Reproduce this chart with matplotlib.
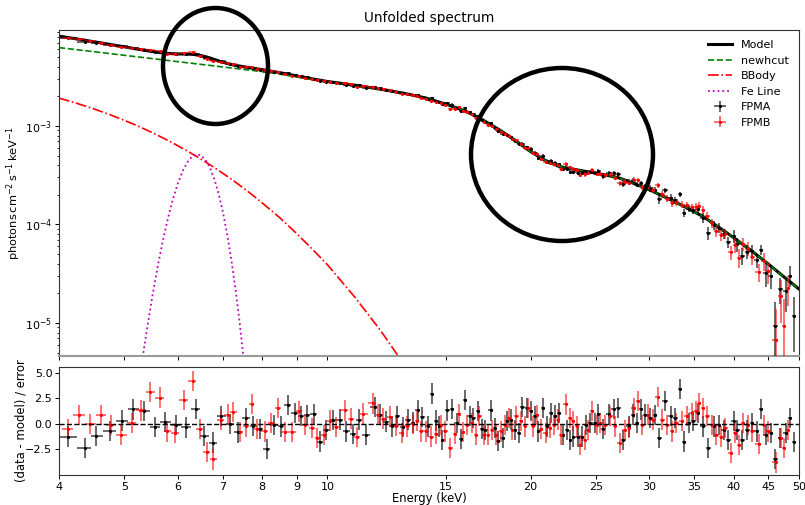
import numpy as np
import matplotlib
matplotlib.use("Agg")
import matplotlib.pyplot as plt
from matplotlib.patches import Ellipse
from matplotlib.ticker import FixedLocator, FixedFormatter, NullLocator

# ---------------- model components (photons cm^-2 s^-1 keV^-1) ----------------
model_energy = [4.0, 4.25, 4.5, 4.75, 5.0, 5.2, 5.3, 5.4, 5.5, 5.6, 5.7, 5.8, 5.9,
                6.0, 6.1, 6.2, 6.3, 6.4, 6.5, 6.6, 6.7, 6.8, 6.9, 7.0, 7.1, 7.2,
                7.3, 7.4, 7.5, 7.6, 7.8, 8.0, 8.5, 9.0, 9.5, 10, 11, 12, 13, 14,
                15, 16, 17, 18, 19, 20, 21, 22, 23, 24, 25, 26, 27, 28, 30, 32,
                34, 36, 38, 40, 42, 44, 46, 48, 50]

newhcut_flux = [6.25e-3, 5.95e-3, 5.68e-3, 5.44e-3, 5.22e-3, 5.05e-3, 4.98e-3,
                4.90e-3, 4.83e-3, 4.76e-3, 4.69e-3, 4.63e-3, 4.56e-3, 4.50e-3,
                4.44e-3, 4.38e-3, 4.33e-3, 4.27e-3, 4.22e-3, 4.17e-3, 4.12e-3,
                4.07e-3, 4.02e-3, 3.97e-3, 3.93e-3, 3.88e-3, 3.84e-3, 3.80e-3,
                3.76e-3, 3.72e-3, 3.64e-3, 3.57e-3, 3.36e-3, 3.14e-3, 2.95e-3,
                2.79e-3, 2.57e-3, 2.35e-3, 2.14e-3, 1.92e-3, 1.66e-3, 1.42e-3,
                1.15e-3, 9.1e-4, 7.1e-4, 5.5e-4, 4.5e-4, 3.9e-4, 3.67e-4,
                3.48e-4, 3.32e-4, 3.15e-4, 2.98e-4, 2.73e-4, 2.25e-4, 1.83e-4,
                1.49e-4, 1.21e-4, 9.4e-5, 7.35e-5, 5.75e-5, 4.5e-5, 3.52e-5,
                2.77e-5, 2.21e-5]

nan = np.nan
bbody_flux = [1.92e-3, 1.70e-3, 1.495e-3, 1.31e-3, 1.14e-3, 1.02e-3, 9.61e-4,
              9.07e-4, 8.55e-4, 8.05e-4, 7.58e-4, 7.13e-4, 6.71e-4, 6.30e-4,
              5.92e-4, 5.56e-4, 5.22e-4, 4.90e-4, 4.59e-4, 4.30e-4, 4.03e-4,
              3.77e-4, 3.53e-4, 3.30e-4, 3.09e-4, 2.89e-4, 2.70e-4, 2.52e-4,
              2.35e-4, 2.20e-4, 1.91e-4, 1.66e-4, 1.17e-4, 8.1e-5, 5.6e-5,
              3.9e-5, 1.8e-5, 8.3e-6, 3.75e-6, 1.7e-6,
              nan, nan, nan, nan, nan, nan, nan, nan, nan, nan, nan, nan, nan,
              nan, nan, nan, nan, nan, nan, nan, nan, nan, nan, nan, nan]

fe_line_flux = [nan, nan, nan, nan, nan, 1.47e-6, 3.70e-6, 8.62e-6, 1.855e-5,
                3.69e-5, 6.78e-5, 1.149e-4, 1.80e-4, 2.60e-4, 3.48e-4, 4.29e-4,
                4.90e-4, 5.16e-4, 5.01e-4, 4.50e-4, 3.74e-4, 2.86e-4, 2.03e-4,
                1.33e-4, 8.0e-5, 4.46e-5, 2.30e-5, 1.09e-5, 4.80e-6, 1.95e-6,
                nan, nan, nan, nan, nan, nan, nan, nan, nan, nan, nan, nan, nan,
                nan, nan, nan, nan, nan, nan, nan, nan, nan, nan, nan, nan, nan,
                nan, nan, nan, nan, nan, nan, nan, nan, nan]

# ---------------- data: bin centres (keV) and residuals (sigma) ----------------
fpma_energy = [4.13, 4.37, 4.54, 4.76, 4.96, 5.15, 5.35, 5.56, 5.74, 5.97, 6.18,
               6.38, 6.56, 6.77, 6.96, 7.18, 7.36, 7.57, 7.76, 7.94, 8.13, 8.33,
               8.54, 8.73, 8.94, 9.14, 9.32, 9.55, 9.76, 9.96, 10.19, 10.43,
               10.67, 10.9, 11.12, 11.4, 11.76, 11.95, 12.2, 12.47, 12.7, 12.93,
               13.16, 13.4, 13.6, 13.8, 14.1, 14.3, 14.47, 14.65, 14.8, 15.05,
               15.3, 15.55, 15.75, 16.0, 16.25, 16.45, 16.7, 16.95, 17.15,
               17.45, 17.7, 17.9, 18.2, 18.45, 18.7, 18.95, 19.2, 19.45, 19.75,
               20.0, 20.3, 20.55, 20.85, 21.15, 21.45, 21.75, 22.05, 22.35,
               22.65, 22.9, 23.15, 23.5, 23.85, 24.2, 24.5, 24.9, 25.2, 25.65,
               26.1, 26.55, 27.0, 27.45, 27.95, 28.35, 28.8, 29.2, 29.6, 30.1,
               30.6, 31.0, 31.7, 32.3, 32.8, 33.3, 33.8, 34.3, 34.85, 35.4,
               36.0, 36.7, 37.4, 38.0, 38.7, 39.3, 40.0, 40.5, 41.2, 41.9, 42.6,
               43.3, 43.9, 44.6, 45.5, 46.1, 46.9, 47.8, 48.5, 49.2]
fpma_resid = [-1.27, -2.43, -1.2, -0.7, 0.3, 1.4, 1.23, -0.33, 0.13, -0.17,
              -0.37, 1.47, -1.2, -1.87, 0.73, 0.0, -0.87, 0.57, -0.2, -0.5,
              -2.53, -0.1, -0.27, 1.83, 1.07, 0.73, 0.83, 0.97, -1.77, -0.6,
              0.33, 0.4, -0.77, -1.0, 0.4, -1.1, 1.63, 0.9, 0.2, -0.27, 0.73,
              -0.3, 0.4, 0.1, 1.3, 0.67, -0.27, 2.97, 0.3, -0.27, -1.6, 1.3,
              1.47, 0.07, -1.5, 2.3, 0.73, 0.57, 1.23, -0.5, -0.6, 1.3, -0.43,
              -1.7, -1.43, 0.23, 0.4, -0.6, -0.93, 1.63, 1.57, 1.23, 0.73,
              -0.77, 1.57, -0.27, 1.07, 0.8, 1.03, -1.1, -0.6, -1.6, -1.27,
              -1.27, -1.27, -0.1, 0.07, 0.07, 0.97, -0.5, 0.97, 1.47, 1.57,
              -1.6, -0.27, 0.9, 0.07, 1.4, 0.9, 0.57, 0.83, -1.43, 2.23, 0.73,
              0.57, 3.4, -1.77, 0.07, 0.23, 1.07, -0.27, -2.43, -0.27, -0.1,
              -0.6, -1.6, 0.23, -0.6, -1.6, -0.6, 0.07, -0.77, 1.47, -1.1,
              -0.93, -3.5, -1.43, -0.93, 0.57, -1.83]

fpmb_energy = [4.12, 4.28, 4.45, 4.62, 4.77, 4.95, 5.13, 5.29, 5.46, 5.64, 5.79,
               5.95, 6.12, 6.31, 6.47, 6.63, 6.77, 6.96, 7.11, 7.25, 7.43, 7.58,
               7.72, 7.87, 8.07, 8.25, 8.45, 8.64, 8.87, 9.08, 9.27, 9.48, 9.66,
               9.88, 10.1, 10.3, 10.6, 10.85, 11.05, 11.3, 11.7, 11.9, 12.1,
               12.4, 12.65, 12.88, 13.1, 13.4, 13.58, 13.75, 14.0, 14.25, 14.5,
               14.75, 14.95, 15.2, 15.45, 15.65, 15.9, 16.1, 16.35, 16.6, 16.8,
               17.05, 17.3, 17.55, 17.8, 18.1, 18.35, 18.6, 18.8, 19.05, 19.35,
               19.6, 19.85, 20.15, 20.45, 20.75, 21.05, 21.35, 21.65, 21.95,
               22.2, 22.55, 22.85, 23.15, 23.4, 23.7, 24.05, 24.35, 24.65,
               25.05, 25.35, 25.8, 26.25, 26.7, 27.1, 27.6, 28.0, 28.45, 28.9,
               29.3, 29.85, 30.35, 30.85, 31.35, 31.9, 32.45, 32.9, 33.55, 34.1,
               34.7, 35.15, 35.6, 36.0, 36.5, 37.2, 37.7, 38.3, 38.85, 39.65,
               40.2, 40.75, 41.3, 41.95, 42.6, 43.6, 44.3, 45.0, 46.2, 47.0,
               47.5, 48.2]
fpmb_resid = [-0.5, 0.83, 0.0, 0.83, -0.1, -1.1, 0.07, 1.3, 3.13, 2.57, -0.77,
              -0.93, 2.33, 4.23, -0.5, -2.77, -3.53, 0.33, 0.9, 1.13, -0.83,
              -0.27, 1.97, -0.5, -0.77, 0.07, 1.57, -0.83, -0.83, 1.2, -0.1,
              -0.4, -1.43, -1.1, 0.3, -0.3, 1.3, 0.5, -1.3, 1.0, 2.0, 0.9, 0.5,
              0.7, -0.2, -0.93, -0.27, -0.03, 0.3, -0.77, -0.77, -1.27, -1.03,
              -0.17, -0.77, -2.43, -1.03, 0.97, -0.83, -0.17, 0.07, -1.1, 0.73,
              -1.1, -1.1, -0.6, -1.1, -0.77, -0.1, 0.57, -0.6, 0.73, 0.23,
              -0.27, 1.57, -0.27, 0.83, -0.5, -0.93, -0.43, -0.1, 0.4, -1.1,
              1.9, 0.57, 0.23, -0.27, -2.1, -1.6, -0.6, 1.23, -0.1, 0.07, -0.1,
              0.73, -0.27, -1.93, -0.6, -0.43, 1.57, 2.23, -0.1, 0.9, 0.4,
              2.63, 0.4, -0.1, -0.77, 0.07, 0.23, 0.73, 1.07, 1.23, 2.07, 1.57,
              0.73, -0.1, -1.1, -1.27, -0.43, -2.93, -0.93, -2.1, 0.07, -0.1,
              -0.77, -2.03, -0.1, -0.77, -3.83, -1.43, -2.43, -0.6]

# fractional 1-sigma flux error per energy band
err_band_edges = [4, 10, 15, 20, 25, 30, 35, 40, 44, 47, 50]
err_band_frac = [0.012, 0.018, 0.03, 0.045, 0.06, 0.08, 0.11, 0.15, 0.21, 0.28]

energy_ticks = [4, 5, 6, 7, 8, 9, 10, 15, 20, 25, 30, 35, 40, 45, 50]
resid_ticks = [-2.5, 0.0, 2.5, 5.0]

# ---------------- derived quantities ----------------
m_e = np.asarray(model_energy)
cont = np.asarray(newhcut_flux)
bb = np.asarray(bbody_flux)
fe = np.asarray(fe_line_flux)
model_total = cont + np.nan_to_num(bb) + np.nan_to_num(fe)


def model_at(e):
    return np.exp(np.interp(np.log(e), np.log(m_e), np.log(model_total)))


def bin_halfwidths(e):
    e = np.asarray(e, dtype=float)
    edges = np.empty(len(e) + 1)
    edges[1:-1] = 0.5 * (e[1:] + e[:-1])
    edges[0] = e[0] - (edges[1] - e[0])
    edges[-1] = min(e[-1] + (e[-1] - edges[-2]), 50.0)
    return np.vstack([e - edges[:-1], edges[1:] - e])


def band_frac(e):
    idx = np.searchsorted(err_band_edges, e, side="right") - 1
    idx = np.clip(idx, 0, len(err_band_frac) - 1)
    return np.asarray(err_band_frac)[idx]


def spectrum(e, r):
    e = np.asarray(e, dtype=float)
    r = np.asarray(r, dtype=float)
    m = model_at(e)
    f = band_frac(e)
    return e, m * (1 + r * f), m * f, r, bin_halfwidths(e)


# ---------------- figure ----------------
plt.rcParams["font.family"] = ["DejaVu Sans"]
W, H = 805, 505
fig = plt.figure(figsize=(W / 100, H / 100), dpi=100)
L, R = 59, 799
ax = fig.add_axes([L / W, 1 - 356 / H, (R - L) / W, (356 - 30) / H])
axr = fig.add_axes([L / W, 1 - 475 / H, (R - L) / W, (475 - 367) / H])

ax.plot(m_e, model_total, color="k", lw=2.2, label="Model", zorder=2)
ax.plot(m_e, cont, color="g", ls="--", lw=1.2, label="newhcut", zorder=2.1)
ax.plot(m_e, bb, color="r", ls="-.", lw=1.2, label="BBody", zorder=2)
ax.plot(m_e, fe, color="m", ls=":", lw=1.3, label="Fe Line", zorder=2)

for e, r, col, ecol, lab in [(fpma_energy, fpma_resid, "k", (0, 0, 0, 0.75), "FPMA"),
                             (fpmb_energy, fpmb_resid, "r", (1, 0, 0, 0.7), "FPMB")]:
    x, y, dy, res, dx = spectrum(e, r)
    ax.errorbar(x, y, yerr=dy, xerr=dx, fmt=".", ms=2.5, color=col, ecolor=ecol,
                elinewidth=1.1, capsize=0, label=lab, zorder=3)
    axr.errorbar(x, res, yerr=1.0, xerr=dx, fmt=".", ms=2.5, color=col,
                 ecolor=ecol, elinewidth=1.1, capsize=0, zorder=3)

axr.axhline(0.0, color="k", ls="--", lw=1.0, zorder=4)

for a in (ax, axr):
    a.set_xscale("log")
    a.set_xlim(4, 50)
    a.xaxis.set_major_locator(FixedLocator(energy_ticks))
    a.xaxis.set_minor_locator(NullLocator())
    a.tick_params(axis="both", which="major", labelsize=8, length=2.8,
                  width=0.7, pad=2)
    a.tick_params(axis="both", which="minor", length=1.6, width=0.6)
    for s in a.spines.values():
        s.set_linewidth(0.8)
        s.set_color("0.2")

ax.xaxis.set_major_formatter(FixedFormatter([str(t) for t in energy_ticks]))
ax.tick_params(axis="x", labelbottom=False)
ax.spines["bottom"].set_color("0.6")
ax.spines["bottom"].set_linewidth(1.5)
axr.xaxis.set_major_formatter(FixedFormatter([str(t) for t in energy_ticks]))

ax.set_yscale("log")
ax.set_ylim(4.62e-6, 9.43e-3)
axr.set_ylim(-5.07, 5.59)
axr.yaxis.set_major_locator(FixedLocator(resid_ticks))

ax.set_title("Unfolded spectrum", fontsize=9.8)
ax.set_ylabel(r"$\mathrm{photons\,cm^{-2}\,s^{-1}\,keV^{-1}}$", fontsize=8.2)
axr.set_ylabel("(data - model) / error", fontsize=8.4)
axr.set_xlabel("Energy (keV)", fontsize=8.4, labelpad=0)
ax.yaxis.set_label_coords(-0.049, 0.5)
axr.yaxis.set_label_coords(-0.043, 0.5)

ax.legend(loc="upper right", frameon=False, fontsize=8, handlelength=2.2)

# highlight rings around the Fe line and the cyclotron feature
for cx, cy, w, h in [(215.5, 66, 105, 116), (562, 154.5, 182, 173)]:
    fig.add_artist(Ellipse((cx / W, 1 - cy / H), w / W, h / H,
                           transform=fig.transFigure, fill=False,
                           ec="k", lw=3.2, zorder=10))

fig.savefig("out.png", dpi=100)
